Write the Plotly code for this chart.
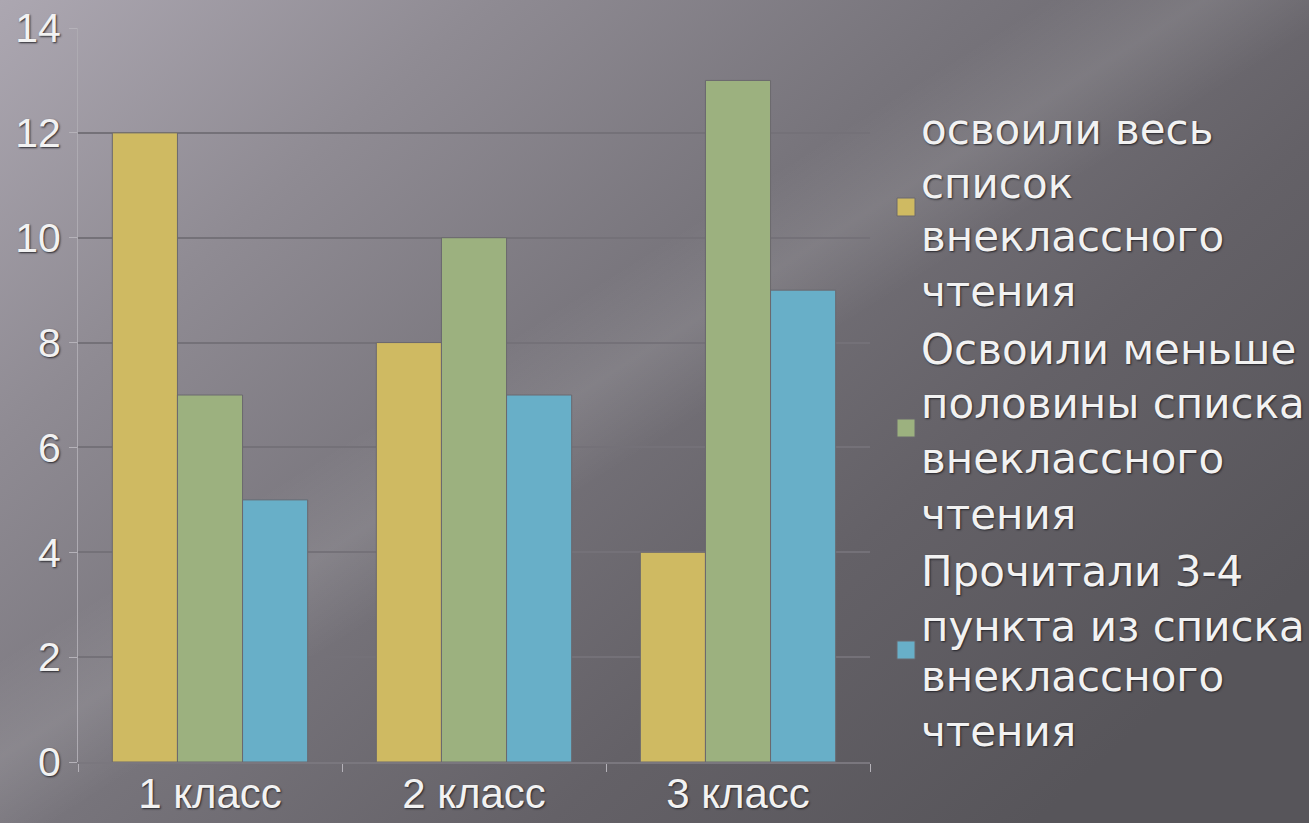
import base64
import plotly.graph_objects as go

categories = ["1 класс", "2 класс", "3 класс"]
series_names = [
    "освоили весь список внеклассного чтения",
    "Освоили меньше половины списка внеклассного чтения",
    "Прочитали 3-4 пункта из списка внеклассного чтения",
]
legend_lines = [
    ["освоили весь", "список", "внеклассного", "чтения"],
    ["Освоили меньше", "половины списка", "внеклассного", "чтения"],
    ["Прочитали 3-4", "пункта из списка", "внеклассного", "чтения"],
]
full_list = [12, 8, 4]
less_half = [7, 10, 13]
read_3_4 = [5, 7, 9]
colors = ["#cfba62", "#9cb17f", "#68afc8"]
y_ticks = [0, 2, 4, 6, 8, 10, 12, 14]

W, H = 1309, 823
L, R, T, B = 78, 870, 28, 762

svg = f'''<svg xmlns="http://www.w3.org/2000/svg" width="{W}" height="{H}" viewBox="0 0 {W} {H}" preserveAspectRatio="none">
<defs>
<linearGradient id="g" x1="0" y1="0" x2="1" y2="0.7">
<stop offset="0" stop-color="#aca7b1"/>
<stop offset="0.25" stop-color="#8f8b93"/>
<stop offset="0.5" stop-color="#77747b"/>
<stop offset="0.75" stop-color="#646167"/>
<stop offset="1" stop-color="#57555a"/>
</linearGradient>
<linearGradient id="s" x1="0" y1="0" x2="1" y2="1">
<stop offset="0" stop-color="#ffffff" stop-opacity="0"/>
<stop offset="0.40" stop-color="#ffffff" stop-opacity="0"/>
<stop offset="0.46" stop-color="#ffffff" stop-opacity="0.10"/>
<stop offset="0.52" stop-color="#ffffff" stop-opacity="0"/>
<stop offset="1" stop-color="#ffffff" stop-opacity="0"/>
</linearGradient>
</defs>
<rect width="{W}" height="{H}" fill="url(#g)"/>
<rect width="{W}" height="{H}" fill="url(#s)"/>
</svg>'''
bg_uri = "data:image/svg+xml;base64," + base64.b64encode(svg.encode()).decode()

fig = go.Figure()
for name, vals, col in zip(series_names, [full_list, less_half, read_3_4], colors):
    fig.add_trace(go.Bar(
        x=categories, y=vals, name=name,
        marker=dict(color=col, line=dict(color="#6a686e", width=1)),
        showlegend=False,
    ))

shadow = "1px 1px 2px rgba(30,30,35,0.9)"
fig.update_layout(
    width=W, height=H,
    margin=dict(l=L, r=W - R, t=T, b=H - B, pad=0, autoexpand=False),
    paper_bgcolor="#77747b",
    plot_bgcolor="rgba(0,0,0,0)",
    barmode="group", bargap=0.26, bargroupgap=0,
    images=[dict(source=bg_uri, xref="paper", yref="paper",
                 x=-L / (R - L), y=1 + T / (B - T),
                 sizex=W / (R - L), sizey=H / (B - T),
                 xanchor="left", yanchor="top", sizing="stretch", layer="below")],
    xaxis=dict(
        automargin=False,
        showgrid=False, showline=True, linecolor="#7a777e", linewidth=2,
        ticks="outside", tickson="boundaries", ticklen=8, tickcolor="#b5b2b9",
        ticklabelstandoff=-6,
        tickfont=dict(family="Liberation Sans, Arial", size=42, color="#f2f2f2", shadow=shadow),
    ),
    yaxis=dict(
        automargin=False,
        range=[0, 14], tickvals=y_ticks, showgrid=True, gridcolor="#747178", gridwidth=2,
        showline=True, linecolor="#aeabb2", linewidth=1, zeroline=False,
        ticks="outside", ticklen=8, tickcolor="#b5b2b9",
        tickfont=dict(family="Liberation Sans, Arial", size=41, color="#f2f2f2", shadow=shadow),
    ),
)

def px_x(px):
    return (px - L) / (R - L)

def px_y(py):
    return (B - py) / (B - T)

baselines = [143, 197, 250, 305, 363, 417, 472, 528, 585, 640, 690, 745]
swatch_centers = [207, 428, 650]
fsize = 42
i = 0
for k, lines in enumerate(legend_lines):
    for line in lines:
        fig.add_annotation(
            text=line, xref="paper", yref="paper",
            x=px_x(919), y=px_y(baselines[i] - 0.33 * fsize),
            xanchor="left", yanchor="middle", showarrow=False,
            font=dict(family="DejaVu Sans", size=fsize, color="#f2f2f2", shadow=shadow),
        )
        i += 1
    cy = swatch_centers[k]
    fig.add_shape(type="rect", xref="paper", yref="paper",
                  x0=px_x(897), x1=px_x(915), y0=px_y(cy + 9), y1=px_y(cy - 9),
                  fillcolor=colors[k], line=dict(color="#6a686e", width=1))

fig.write_html(
    "out.html",
    config={"displayModeBar": False},
    post_script="document.body.style.margin='0';document.body.style.overflow='hidden';",
)
